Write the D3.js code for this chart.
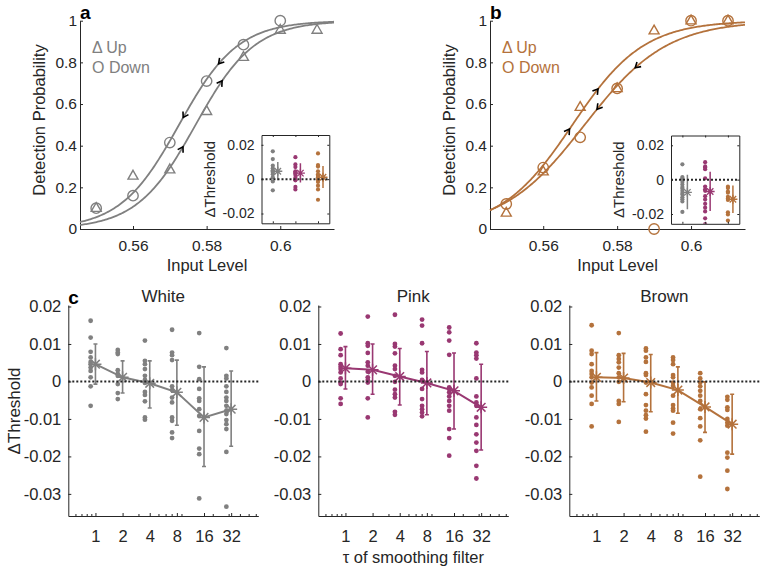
<!DOCTYPE html>
<html><head><meta charset="utf-8">
<script src="https://cdn.jsdelivr.net/npm/d3@7/dist/d3.min.js"></script>
<style>
body{margin:0;background:#fff;}
svg{display:block;}
text{font-family:Arial,"Liberation Sans",Helvetica,sans-serif;fill:#262626;}
</style></head><body>
<svg id="chart" width="763" height="569"></svg>
<script>
// ---------------- data ----------------
const inputLevels   = [0.55,0.56,0.57,0.58,0.59,0.60,0.61];
const whiteUpProb   = [0.10,0.255,0.285,0.565,0.825,0.955,0.955];
const whiteDownProb = [0.10,0.16,0.415,0.71,0.885,1.0,null];
const brownUpProb   = [0.077,0.275,0.585,0.675,0.952,1.0,1.0];
const brownDownProb = [0.12,0.295,0.44,0.675,0.0,1.0,1.0];
// fitted logistic psychometric functions: [threshold, spread]
const whiteUpFit   = [0.577,0.008];
const whiteDownFit = [0.5725,0.008];
const brownUpFit   = [0.5679,0.00965];
const brownDownFit = [0.5712,0.0111];
// where the direction arrows sit on each curve (input level)
const whiteUpArrowAt   = [0.5733,0.5839];
const whiteDownArrowAt = [0.5739,0.5836];
const brownUpArrowAt   = [0.5668,0.5745];
const brownDownArrowAt = [0.5749,0.5853];

const levelDomain     = [0.5456,0.6146];
const probTicks       = [0,0.2,0.4,0.6,0.8,1];
const probTickLabels  = ["0","0.2","0.4","0.6","0.8","1"];
const levelTicks      = [0.56,0.58,0.6];
const levelTickLabels = ["0.56","0.58","0.6"];
const dThrDomain      = [-0.0359,0.0204];
const dThrTicks       = [0.02,0.01,0,-0.01,-0.02,-0.03];
const dThrTickLabels  = ["0.02","0.01","0","-0.01","-0.02","-0.03"];
const insetDomain     = [-0.0257,0.0257];
const insetTicks      = [0.02,0,-0.02];
const insetTickLabels = ["0.02","0","-0.02"];
const tauValues       = [1,2,4,8,16,32];
const tauTickLabels   = ["1","2","4","8","16","32"];
const tauMinorTicks   = [0.6,0.7,0.8,0.9,3,5,6,7,9,20,30,40,50,60];
const noiseTypes      = ["White","Pink","Brown"];

// ΔThreshold per subject, one list per τ
const whiteDots = [
  [0.0162,0.0117,0.0079,0.0064,0.0052,0.0046,0.0037,0.0028,0.0011,-0.0013,-0.0065],
  [0.0084,0.0077,0.0073,0.003,0.002,0.0015,-0.0007,-0.0031,-0.0047],
  [0.0109,0.0055,0.0046,0.0033,0.0015,0.0004,-0.0004,-0.0028,-0.0036,-0.0053,-0.0096,-0.0102],
  [0.0138,0.0077,0.007,0.0057,-0.0013,-0.0023,-0.0043,-0.0056,-0.0096,-0.0105,-0.0136,-0.0151],
  [0.0129,0.0039,0.0006,-0.002,-0.0045,-0.0052,-0.0074,-0.0092,-0.0132,-0.0179,-0.0194,-0.0312],
  [0.0089,0.0015,0.0008,-0.0013,-0.0028,-0.0043,-0.0052,-0.0065,-0.0078,-0.0087,-0.0103,-0.0114,-0.0127,-0.0188,-0.0334]
];
const whiteMean = [0.0046,0.0011,-0.0005,-0.0029,-0.0096,-0.0074];
const whiteHi   = [0.01,0.0055,0.0055,0.0057,0.0039,0.0028];
const whiteLo   = [-0.0007,-0.0031,-0.0071,-0.0117,-0.0227,-0.0173];

const pinkDots = [
  [0.0128,0.0086,0.007,0.0046,0.0039,0.0033,0.0024,0.0008,-0.0003,-0.0007,-0.0045,-0.006],
  [0.0173,0.0102,0.0095,0.0076,0.0051,0.0042,0.0026,0.0011,0.0004,-0.0003,-0.0045,-0.0096],
  [0.0178,0.01,0.0093,0.0075,0.0042,0.0033,0.0015,-0.0001,-0.0022,-0.0034,-0.0043,-0.0081,-0.0089],
  [0.0165,0.0149,0.0102,0.0031,0.0024,0.0004,-0.002,-0.0047,-0.0065,-0.0074,-0.0083,-0.0093],
  [0.0144,0.0131,0.0109,0.0071,-0.0016,-0.002,-0.0029,-0.004,-0.0052,-0.0065,-0.0078,-0.0127,-0.0151,-0.0198],
  [0.0102,0.0077,0.007,0.0061,0.0008,-0.004,-0.0056,-0.0065,-0.0096,-0.0116,-0.0141,-0.0163,-0.0185,-0.0225,-0.0259]
];
const pinkMean = [0.0035,0.0031,0.0013,-0.0004,-0.0025,-0.0069];
const pinkHi   = [0.0093,0.01,0.0088,0.008,0.0076,0.0046];
const pinkLo   = [-0.002,-0.0034,-0.0063,-0.0089,-0.0127,-0.0183];

const brownDots = [
  [0.015,0.0082,0.0073,0.0046,0.0028,0.002,0.0011,-0.0003,-0.0016,-0.0038,-0.006,-0.012],
  [0.0129,0.007,0.006,0.0051,0.0037,0.0022,0.0011,-0.0001,-0.0052,-0.006,-0.0108],
  [0.0088,0.0082,0.0064,0.0052,0.0022,0.0017,-0.0003,-0.0034,-0.0063,-0.0078,-0.009,-0.0099,-0.0134],
  [0.0064,0.0057,0.0046,0.0017,0.0011,-0.0003,-0.0012,-0.0038,-0.0063,-0.0072,-0.0078,-0.011,-0.0139],
  [0.0022,0.0008,-0.0003,-0.0013,-0.0025,-0.0038,-0.0052,-0.0074,-0.0098,-0.012,-0.0157,-0.0254],
  [-0.0041,-0.0049,-0.0069,-0.0076,-0.01,-0.011,-0.0118,-0.019,-0.0203,-0.0238,-0.0287]
];
const brownMean = [0.0011,0.0009,-0.0003,-0.0023,-0.0068,-0.0114];
const brownHi   = [0.0077,0.0075,0.0072,0.0039,-0.0001,-0.0034];
const brownLo   = [-0.0052,-0.0054,-0.0081,-0.0085,-0.0136,-0.0194];

// ---------------- style ----------------
const AX = "#262626";
const GRAY = "#808080", PINK = "#993872", BROWN = "#b4723c";

const svg = d3.select("#chart");

function styleAxis(sel, fs){
  sel.select(".domain").attr("stroke", AX).attr("stroke-width", 1);
  sel.selectAll(".tick line").attr("stroke", AX).attr("stroke-width", 1);
  sel.selectAll(".tick text").attr("fill", AX).style("font-size", fs + "px")
     .style("font-family", "Arial, 'Liberation Sans', sans-serif");
}
const logistic = (fit) => v => 1/(1+Math.exp(-(v-fit[0])/fit[1]));

function starPath(r){
  const k = r*0.72;
  return `M${-r},0L${r},0M0,${-r}L0,${r}M${-k},${-k}L${k},${k}M${-k},${k}L${k},${-k}`;
}
function triPath(){ return "M0,-5.6L5,3.2L-5,3.2Z"; }

// ---------------- panels a & b ----------------
function psyPanel(o){
  const g = svg.append("g");
  const x = d3.scaleLinear().domain(levelDomain).range([o.left, o.right]);
  const y = d3.scaleLinear().domain([0,1]).range([229, 20.7]);

  const ya = g.append("g").attr("transform", `translate(${o.left},0)`)
    .call(d3.axisLeft(y).tickValues(probTicks).tickFormat((d,i)=>probTickLabels[i])
      .tickSizeInner(-3).tickSizeOuter(0).tickPadding(3));
  styleAxis(ya, 15.5);
  const xa = g.append("g").attr("transform", `translate(0,229)`)
    .call(d3.axisBottom(x).tickValues(levelTicks).tickFormat((d,i)=>levelTickLabels[i])
      .tickSizeInner(-3).tickSizeOuter(0).tickPadding(11));
  styleAxis(xa, 15.5);

  // fitted curves
  const samples = d3.range(0, 201).map(i => levelDomain[0] + (levelDomain[1]-levelDomain[0])*i/200);
  [o.upFit, o.downFit].forEach(fit => {
    const f = logistic(fit);
    g.append("path").datum(samples)
      .attr("d", d3.line().x(v => x(v)).y(v => y(f(v))))
      .attr("fill","none").attr("stroke", o.color).attr("stroke-width", 1.8);
  });
  // arrows
  function arrows(fit, list, dir){
    const f = logistic(fit);
    list.forEach(at => {
      const px = x(at), py = y(f(at));
      const qx = x(at + 0.0004*dir), qy = y(f(at + 0.0004*dir));
      const ang = Math.atan2(qy-py, qx-px);
      const L = 6, sp = 0.55;
      const tx = px + 2*Math.cos(ang), ty = py + 2*Math.sin(ang);
      const a1 = ang + Math.PI - sp, a2 = ang + Math.PI + sp;
      g.append("path")
        .attr("d", `M${tx+L*Math.cos(a1)},${ty+L*Math.sin(a1)}L${tx},${ty}L${tx+L*Math.cos(a2)},${ty+L*Math.sin(a2)}`)
        .attr("fill","none").attr("stroke","#000").attr("stroke-width",1.6);
    });
  }
  arrows(o.upFit, o.upArrows, 1);
  arrows(o.downFit, o.downArrows, -1);

  // markers
  inputLevels.forEach((lv,i) => {
    if (o.up[i] != null)
      g.append("path").attr("d", triPath()).attr("transform", `translate(${x(lv)},${y(o.up[i])})`)
        .attr("fill","none").attr("stroke", o.color).attr("stroke-width",1.4);
    if (o.down[i] != null)
      g.append("circle").attr("cx", x(lv)).attr("cy", y(o.down[i])).attr("r", 5.2)
        .attr("fill","none").attr("stroke", o.color).attr("stroke-width",1.4);
  });

  // legend
  g.append("text").attr("x", o.left+12).attr("y", 52.7).style("font-size","16px")
    .style("fill", o.color).text("Δ Up");
  g.append("text").attr("x", o.left+12).attr("y", 73).style("font-size","16px")
    .style("fill", o.color).text("O Down");

  // labels
  g.append("text").attr("transform", `translate(${o.left-35},120) rotate(-90)`)
    .attr("text-anchor","middle").style("font-size","16.5px").text("Detection Probability");
  g.append("text").attr("x", (o.left+o.right)/2).attr("y", 271)
    .attr("text-anchor","middle").style("font-size","16.5px").text("Input Level");
  g.append("text").attr("x", o.left).attr("y", 19).style("font-size","19px")
    .style("font-weight","bold").style("fill","#000").text(o.letter);

  // inset
  inset(o.inset, o.tauIndex, o.clipId);
}

function inset(box, ti, clipId){
  const g = svg.append("g");
  const x = d3.scaleLinear().domain([0.5,3.5]).range([box[0], box[1]]);
  const y = d3.scaleLinear().domain(insetDomain).range([box[3], box[2]]);
  g.append("rect").attr("x", box[0]).attr("y", box[2]).attr("width", box[1]-box[0])
    .attr("height", box[3]-box[2]).attr("fill","#fff");
  svg.append("clipPath").attr("id", clipId).append("rect")
    .attr("x", box[0]).attr("y", box[2]).attr("width", box[1]-box[0]).attr("height", box[3]-box[2]);
  const d = g.append("g").attr("clip-path", `url(#${clipId})`);
  const sets = [
    [whiteDots, whiteMean, whiteHi, whiteLo, GRAY],
    [pinkDots, pinkMean, pinkHi, pinkLo, PINK],
    [brownDots, brownMean, brownHi, brownLo, BROWN]
  ];
  sets.forEach((s, k) => {
    const cx = x(k+1);
    d.selectAll(null).data(s[0][ti]).enter().append("circle")
      .attr("cx", cx).attr("cy", v => y(v)).attr("r", 2.1).attr("fill", s[4]);
    const ex = cx + 5;
    d.append("line").attr("x1", ex).attr("x2", ex).attr("y1", y(s[2][ti])).attr("y2", y(s[3][ti]))
      .attr("stroke", s[4]).attr("stroke-width", 1.5);
    d.append("path").attr("d", starPath(4.5)).attr("transform", `translate(${ex},${y(s[1][ti])})`)
      .attr("stroke", s[4]).attr("stroke-width", 1.3).attr("fill","none");
  });
  // zero line
  g.append("line").attr("x1", box[0]).attr("x2", box[1]).attr("y1", y(0)).attr("y2", y(0))
    .attr("stroke", AX).attr("stroke-width", 2).attr("stroke-dasharray","2,2");
  // axes (box)
  const la = g.append("g").attr("transform", `translate(${box[0]},0)`)
    .call(d3.axisLeft(y).tickValues(insetTicks).tickFormat((d,i)=>insetTickLabels[i])
      .tickSizeInner(-2).tickSizeOuter(0).tickPadding(7));
  styleAxis(la, 14);
  const ra = g.append("g").attr("transform", `translate(${box[1]},0)`)
    .call(d3.axisRight(y).tickValues(insetTicks).tickFormat("").tickSizeInner(-2).tickSizeOuter(0));
  styleAxis(ra, 14);
  const ta = g.append("g").attr("transform", `translate(0,${box[2]})`)
    .call(d3.axisTop(x).tickValues([1,2,3]).tickFormat("").tickSizeInner(-2).tickSizeOuter(0));
  styleAxis(ta, 14);
  const ba = g.append("g").attr("transform", `translate(0,${box[3]})`)
    .call(d3.axisBottom(x).tickValues([1,2,3]).tickFormat("").tickSizeInner(-2).tickSizeOuter(0));
  styleAxis(ba, 14);
  g.append("text").attr("transform", `translate(${box[0]-47},${(box[2]+box[3])/2}) rotate(-90)`)
    .attr("text-anchor","middle").style("font-size","15px").text("ΔThreshold");
}

psyPanel({left:80, right:334, color:GRAY, up:whiteUpProb, down:whiteDownProb,
  upFit:whiteUpFit, downFit:whiteDownFit, upArrows:whiteUpArrowAt, downArrows:whiteDownArrowAt,
  letter:"a", inset:[261.5,329.3,135,223.3], tauIndex:0, clipId:"clipA"});
psyPanel({left:490, right:745, color:BROWN, up:brownUpProb, down:brownDownProb,
  upFit:brownUpFit, downFit:brownDownFit, upArrows:brownUpArrowAt, downArrows:brownDownArrowAt,
  letter:"b", inset:[671,739.3,135.5,223.8], tauIndex:5, clipId:"clipB"});

// ---------------- panel c ----------------
function tauPanel(o){
  const g = svg.append("g");
  const x = d3.scaleLog().base(2).domain([0.5,64]).range([o.left, o.left+190]);
  const y = d3.scaleLinear().domain(dThrDomain).range([516, 305]);
  const ya = g.append("g").attr("transform", `translate(${o.left},0)`)
    .call(d3.axisLeft(y).tickValues(dThrTicks).tickFormat((d,i)=>dThrTickLabels[i])
      .tickSizeInner(-3).tickSizeOuter(0).tickPadding(7));
  styleAxis(ya, 16.5);
  const xa = g.append("g").attr("transform", `translate(0,516)`)
    .call(d3.axisBottom(x).tickValues(tauValues).tickFormat((d,i)=>tauTickLabels[i])
      .tickSizeInner(-3).tickSizeOuter(0).tickPadding(14));
  styleAxis(xa, 16.5);
  const xm = g.append("g").attr("transform", `translate(0,516)`)
    .call(d3.axisBottom(x).tickValues(tauMinorTicks).tickFormat("").tickSizeInner(-2).tickSizeOuter(0));
  styleAxis(xm, 16.5);
  xm.select(".domain").remove();

  // dots
  tauValues.forEach((t,i) => {
    g.selectAll(null).data(o.dots[i]).enter().append("circle")
      .attr("cx", x(t) - 4.8).attr("cy", v => y(v)).attr("r", 2.4).attr("fill", o.color);
  });
  // error bars
  tauValues.forEach((t,i) => {
    const cx = x(t);
    g.append("path")
      .attr("d", `M${cx},${y(o.hi[i])}L${cx},${y(o.lo[i])}M${cx-2},${y(o.hi[i])}L${cx+2},${y(o.hi[i])}M${cx-2},${y(o.lo[i])}L${cx+2},${y(o.lo[i])}`)
      .attr("stroke", o.color).attr("stroke-width", 1.6).attr("fill","none");
  });
  // mean line
  g.append("path").datum(o.mean)
    .attr("d", d3.line().x((v,i)=>x(tauValues[i])).y(v=>y(v)))
    .attr("fill","none").attr("stroke", o.color).attr("stroke-width", 2);
  tauValues.forEach((t,i) => {
    g.append("path").attr("d", starPath(6)).attr("transform", `translate(${x(t)},${y(o.mean[i])})`)
      .attr("stroke", o.color).attr("stroke-width", 1.5).attr("fill","none");
  });
  // zero line
  g.append("line").attr("x1", o.left).attr("x2", o.left+190).attr("y1", y(0)).attr("y2", y(0))
    .attr("stroke", AX).attr("stroke-width", 2).attr("stroke-dasharray","2,2");

  g.append("text").attr("x", o.left+95).attr("y", 301.7).attr("text-anchor","middle")
    .style("font-size","17px").text(o.title);
  if (o.ylabel)
    g.append("text").attr("transform", `translate(19.5,411) rotate(-90)`)
      .attr("text-anchor","middle").style("font-size","17px").text("ΔThreshold");
  if (o.xlabel)
    g.append("text").attr("x", o.left+95).attr("y", 563).attr("text-anchor","middle")
      .style("font-size","16.5px").text("τ of smoothing filter");
  if (o.letter)
    g.append("text").attr("x", o.left).attr("y", 304).style("font-size","19px")
      .style("font-weight","bold").style("fill","#000").text(o.letter);
}

tauPanel({left:68.3, color:GRAY, dots:whiteDots, mean:whiteMean, hi:whiteHi, lo:whiteLo,
  title:noiseTypes[0], ylabel:true, letter:"c"});
tauPanel({left:318.3, color:PINK, dots:pinkDots, mean:pinkMean, hi:pinkHi, lo:pinkLo,
  title:noiseTypes[1], xlabel:true});
tauPanel({left:569.3, color:BROWN, dots:brownDots, mean:brownMean, hi:brownHi, lo:brownLo,
  title:noiseTypes[2]});
</script>
</body></html>
